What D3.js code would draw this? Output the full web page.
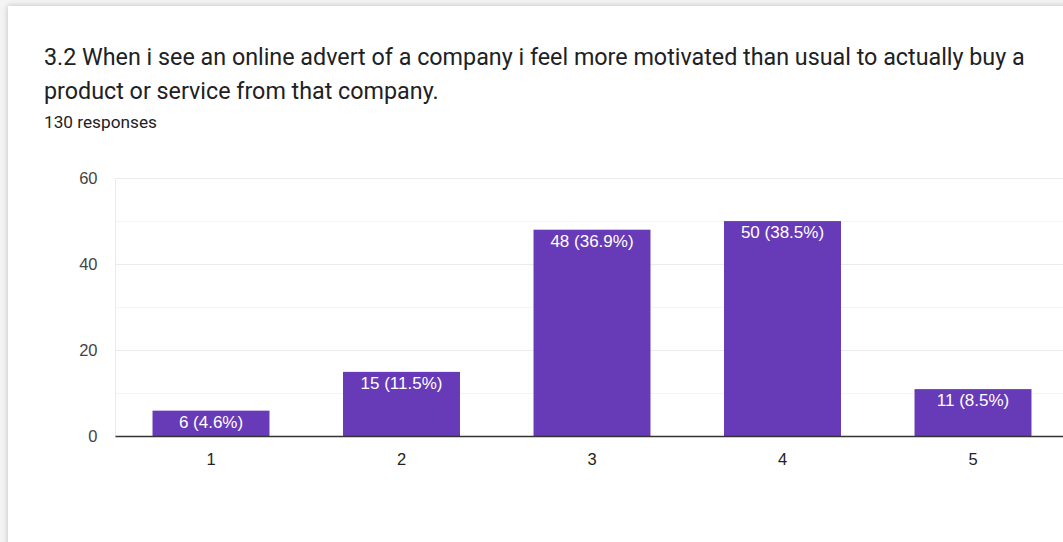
<!DOCTYPE html>
<html>
<head>
<meta charset="utf-8">
<script src="https://cdn.jsdelivr.net/npm/d3@7"></script>
<style>
  html, body { margin: 0; padding: 0; background: #f4f4f4; overflow: hidden; }
  #card {
    position: absolute; left: 8px; top: 6px; width: 1120px; height: 600px;
    background: #fff; box-shadow: 0 0 6px rgba(0,0,0,0.22);
  }
  svg { position: absolute; left: 0; top: 0; }
</style>
</head>
<body>
<div id="card"></div>
<svg id="chart" width="1063" height="542"></svg>
<script>
// Survey question and response counts
const titleLines = [
  "3.2 When i see an online advert of a company i feel more motivated than usual to actually buy a",
  "product or service from that company."
];
const subtitle = "130 responses";
const categories = ["1", "2", "3", "4", "5"];
const counts = [6, 15, 48, 50, 11];
const percents = ["4.6%", "11.5%", "36.9%", "38.5%", "8.5%"];
const yTicks = [0, 20, 40, 60];
const yMinorTicks = [10, 30, 50];

const svg = d3.select("#chart");

// Fit a text element's font size so it spans a given width
function fitWidth(sel, base, width) {
  sel.attr("font-size", base);
  const w = sel.node().getComputedTextLength();
  const size = base * width / w;
  sel.attr("font-size", size);
  return size;
}

// Title block
const titleFont = "Roboto, 'Open Sans', sans-serif";
const t1 = svg.append("text")
  .attr("x", 44).attr("y", 65)
  .attr("font-family", titleFont)
  .attr("fill", "#202124")
  .text(titleLines[0]);
const titleSize = fitWidth(t1, 20, 981);
svg.append("text")
  .attr("x", 44).attr("y", 99)
  .attr("font-family", titleFont).attr("font-size", titleSize)
  .attr("fill", "#202124")
  .text(titleLines[1]);
const sub = svg.append("text")
  .attr("x", 44).attr("y", 128)
  .attr("font-family", titleFont)
  .attr("fill", "#202124")
  .text(subtitle);
fitWidth(sub, 14, 113);

// Scales
const x = d3.scaleBand()
  .domain(categories)
  .range([115.75, 1068.25])
  .paddingInner(0.386)
  .paddingOuter(0.193);
const y = d3.scaleLinear().domain([0, 60]).range([436.5, 178]);

const plotLeft = 115.5, plotRight = 1068;
const axisFont = "'Liberation Sans', Arial, sans-serif";

// Gridlines
svg.append("g").selectAll("line")
  .data(yMinorTicks).join("line")
  .attr("x1", plotLeft).attr("x2", plotRight)
  .attr("y1", d => Math.round(y(d)) + 0.5).attr("y2", d => Math.round(y(d)) + 0.5)
  .attr("stroke", "#f4f4f4").attr("stroke-width", 1);
svg.append("g").selectAll("line")
  .data(yTicks.filter(d => d > 0)).join("line")
  .attr("x1", plotLeft).attr("x2", plotRight)
  .attr("y1", d => Math.round(y(d)) + 0.5).attr("y2", d => Math.round(y(d)) + 0.5)
  .attr("stroke", "#ebebeb").attr("stroke-width", 1);
// left edge of plot
svg.append("line")
  .attr("x1", plotLeft).attr("x2", plotLeft)
  .attr("y1", y(60)).attr("y2", y(0))
  .attr("stroke", "#ebebeb");

// Y axis labels
const yAxis = d3.axisLeft(y).tickValues(yTicks).tickSize(0).tickPadding(18);
const gy = svg.append("g").attr("transform", `translate(${plotLeft},0)`).call(yAxis);
gy.select(".domain").remove();
gy.selectAll("text")
  .attr("font-family", axisFont)
  .attr("font-size", 16.5).attr("fill", "#444");

// Bars
const bars = svg.append("g");
bars.selectAll("rect")
  .data(counts).join("rect")
  .attr("x", (d, i) => x(categories[i]))
  .attr("width", x.bandwidth())
  .attr("y", d => y(d))
  .attr("height", d => y(0) - y(d))
  .attr("fill", "#673ab7");

// Bar value labels
bars.selectAll("text")
  .data(counts).join("text")
  .attr("x", (d, i) => x(categories[i]) + x.bandwidth() / 2)
  .attr("y", d => y(d) + 17.2)
  .attr("text-anchor", "middle")
  .attr("font-family", axisFont)
  .attr("font-size", 17)
  .attr("fill", "#fff")
  .text((d, i) => `${d} (${percents[i]})`);

// Baseline
svg.append("line")
  .attr("x1", plotLeft).attr("x2", plotRight)
  .attr("y1", y(0)).attr("y2", y(0))
  .attr("stroke", "#333").attr("stroke-width", 1.5);

// X axis labels
const xAxis = d3.axisBottom(x).tickSize(0).tickPadding(17);
const gx = svg.append("g").attr("transform", `translate(0,${y(0)})`).call(xAxis);
gx.select(".domain").remove();
gx.selectAll("text")
  .attr("font-family", axisFont)
  .attr("font-size", 16.5).attr("fill", "#222");
</script>
</body>
</html>
